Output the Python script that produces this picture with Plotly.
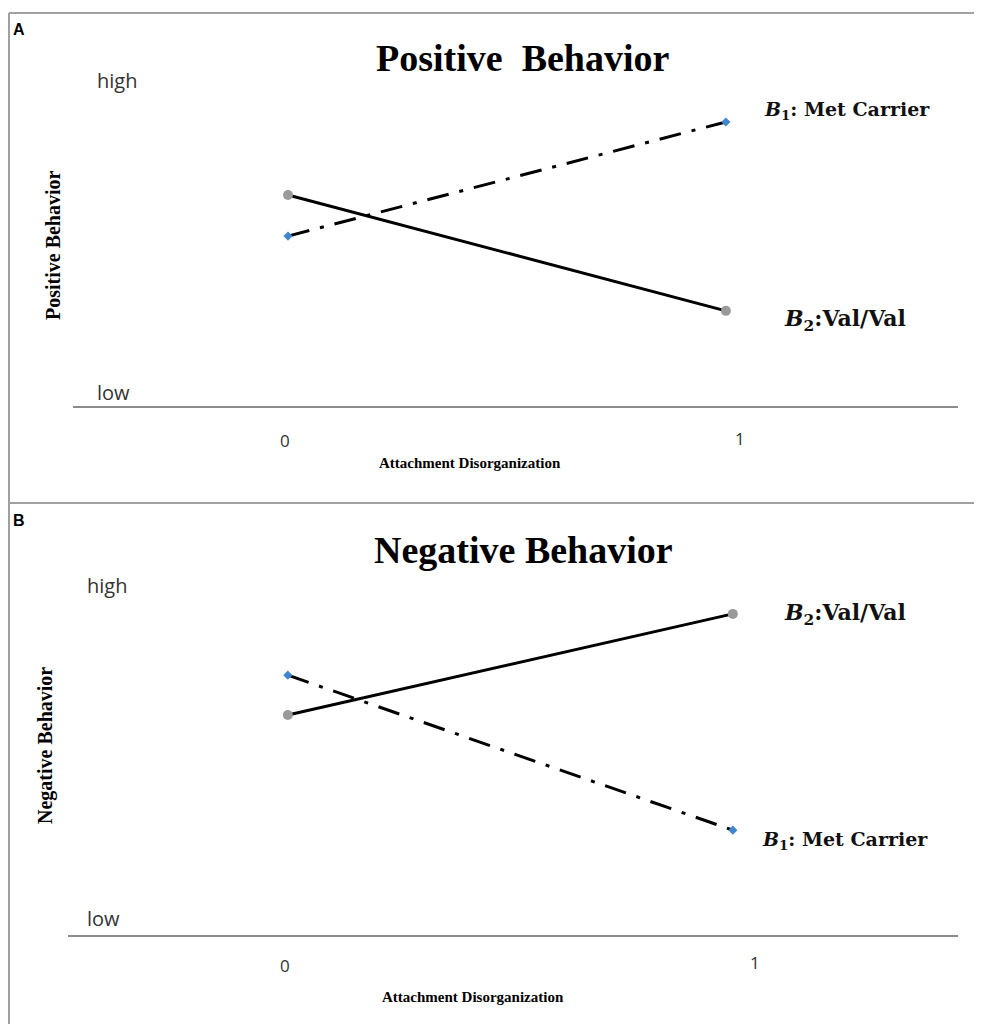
import plotly.graph_objects as go

# page body has an 8px margin: figure drawn from (8, 8)
OFF = 8
W, H = 982 - 2 * OFF, 1032 - 2 * OFF

# ---- data ----
x_levels = [0, 1]
x_tick_labels = ["0", "1"]
pos_met_carrier = [4.91, 8.21]
pos_val_val = [6.10, 2.75]
neg_met_carrier = [7.51, 3.03]
neg_val_val = [6.36, 9.28]
level_labels = ["low", "high"]
level_values_pos = [0.40, 9.42]
level_values_neg = [0.49, 10.1]
panel_titles = ["Positive  Behavior", "Negative Behavior"]
panel_letters = ["A", "B"]
y_titles = ["Positive Behavior", "Negative Behavior"]
x_title = "Attachment Disorganization"
series_names = ["<i>B</i><sub>1</sub>: Met Carrier", "<i>B</i><sub>2</sub>:Val/Val"]


def px(x):
    return (x - OFF) / W


def py(y):
    return 1 - (y - OFF) / H


SERIF = "Liberation Serif"
LABEL_FONT = "DejaVu Serif"
SANS = "Open Sans"

fig = go.Figure()

dash_style = "22px,11px,4px,11px"
panels = [
    dict(xa="x", ya="y", mc=pos_met_carrier, vv=pos_val_val),
    dict(xa="x2", ya="y2", mc=neg_met_carrier, vv=neg_val_val),
]
for p in panels:
    fig.add_trace(go.Scatter(x=x_levels, y=p["mc"], mode="lines+markers", xaxis=p["xa"], yaxis=p["ya"],
                             line=dict(color="black", width=3, dash=dash_style),
                             marker=dict(symbol="diamond", size=7, color="#3f86cc"),
                             name="Met Carrier", showlegend=False, hoverinfo="skip"))
    fig.add_trace(go.Scatter(x=x_levels, y=p["vv"], mode="lines+markers", xaxis=p["xa"], yaxis=p["ya"],
                             line=dict(color="black", width=3),
                             marker=dict(symbol="circle", size=10, color="#9a9a9a"),
                             name="Val/Val", showlegend=False, hoverinfo="skip"))

PXU = 34.6  # pixels per y unit
axis_common = dict(showgrid=False, zeroline=False, showticklabels=False, ticks="", fixedrange=True)
fig.update_layout(
    width=W, height=H, autosize=False,
    margin=dict(l=0, r=0, t=0, b=0),
    paper_bgcolor="white", plot_bgcolor="white",
    xaxis=dict(domain=[px(73), px(958)], range=[-0.491, 1.530], anchor="y",
               showline=True, linecolor="#8c8c8c", linewidth=1.5, **axis_common),
    yaxis=dict(domain=[py(406), py(406 - 10.5 * PXU)], range=[0, 10.5], anchor="x", showline=False, **axis_common),
    xaxis2=dict(domain=[px(68), px(958)], range=[-0.494, 1.506], anchor="y2",
                showline=True, linecolor="#8c8c8c", linewidth=1.5, **axis_common),
    yaxis2=dict(domain=[py(935), py(935 - 10.5 * PXU)], range=[0, 10.5], anchor="x2", showline=False, **axis_common),
)

# panel frames
line_col = "#a0a0a0"
fig.add_shape(type="line", xref="paper", yref="paper", x0=px(9), x1=1, y0=py(13), y1=py(13),
              line=dict(color=line_col, width=2))
fig.add_shape(type="line", xref="paper", yref="paper", x0=px(9), x1=px(9), y0=py(13), y1=0,
              line=dict(color=line_col, width=2))
fig.add_shape(type="line", xref="paper", yref="paper", x0=px(9), x1=1, y0=py(503), y1=py(503),
              line=dict(color=line_col, width=2))

ann = []
# panel letters & titles
for letter, ytop in zip(panel_letters, [30, 520]):
    ann.append(dict(text=f"<b>{letter}</b>", x=px(11), y=py(ytop), xref="paper", yref="paper",
                    xanchor="left", yanchor="middle", showarrow=False,
                    font=dict(family="Liberation Sans", size=16, color="black")))
for t, yc in zip(panel_titles, [58, 550]):
    ann.append(dict(text=f"<b>{t}</b>", x=px(523), y=py(yc), xref="paper", yref="paper",
                    xanchor="center", yanchor="middle", showarrow=False,
                    font=dict(family=SERIF, size=38, color="black")))
# y titles
for t, xc, yc in zip(y_titles, [53, 45], [245, 746]):
    ann.append(dict(text=f"<b>{t}</b>", x=px(xc), y=py(yc), xref="paper", yref="paper",
                    xanchor="center", yanchor="middle", showarrow=False, textangle=-90,
                    font=dict(family=SERIF, size=20, color="black")))
# x titles
for xc, yc in [(470, 463), (473, 997)]:
    ann.append(dict(text=f"<b>{x_title}</b>", x=px(xc), y=py(yc), xref="paper", yref="paper",
                    xanchor="center", yanchor="middle", showarrow=False,
                    font=dict(family=SERIF, size=15, color="black")))
# tick labels
for xa, ys, shifts in [("x", [440, 438], [-3, 14]), ("x2", [965, 962], [-3, 22])]:
    for xv, lab, yy, sh in zip(x_levels, x_tick_labels, ys, shifts):
        ann.append(dict(text=lab, x=xv, y=py(yy), xref=xa, yref="paper", xshift=sh,
                        xanchor="center", yanchor="middle", showarrow=False,
                        font=dict(family=SANS, size=17, color="#333")))
# high / low
for xa, ya, vals, xl in [("x", "y", level_values_pos, -0.44), ("x2", "y2", level_values_neg, -0.455)]:
    for lab, v in zip(level_labels, vals):
        ann.append(dict(text=lab, x=xl, y=v, xref=xa, yref=ya,
                        xanchor="left", yanchor="middle", showarrow=False,
                        font=dict(family=SANS, size=20, color="#333")))
# series labels near line ends
label_specs = [
    ("x", "y", pos_met_carrier[1], series_names[0], 36, 11, 19),
    ("x", "y", pos_val_val[1], series_names[1], 56, -9, 22),
    ("x2", "y2", neg_val_val[1], series_names[1], 49, 0, 22),
    ("x2", "y2", neg_met_carrier[1], series_names[0], 27, -10, 19),
]
for xa, ya, v, lab, xs, ys, fs in label_specs:
    ann.append(dict(text=f"<b>{lab}</b>", x=1, y=v, xref=xa, yref=ya, xshift=xs, yshift=ys,
                    xanchor="left", yanchor="middle", showarrow=False,
                    font=dict(family=LABEL_FONT, size=fs, color="#111")))

fig.update_layout(annotations=ann)
fig.write_html("out.html")
